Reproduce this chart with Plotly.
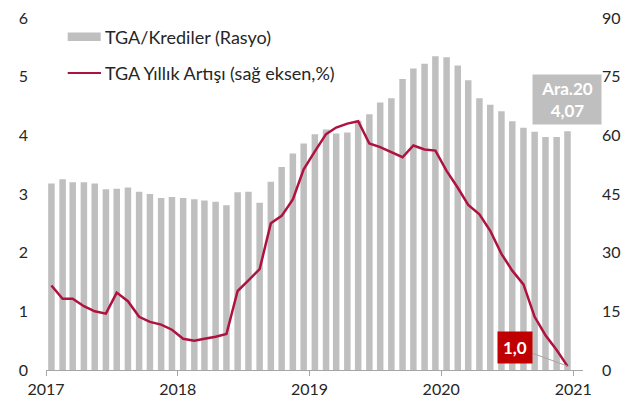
import pandas as pd
import plotly.graph_objects as go

months = pd.date_range("2017-01-01", "2020-12-01", freq="MS") + pd.Timedelta(days=15)

ratio = [3.18, 3.25, 3.20, 3.20, 3.18, 3.08, 3.09, 3.11, 3.04, 3.00, 2.93, 2.95,
         2.93, 2.91, 2.89, 2.87, 2.81, 3.03, 3.04, 2.85, 3.21, 3.46, 3.69, 3.86,
         4.02, 4.10, 4.03, 4.05, 4.25, 4.36, 4.56, 4.63, 4.96, 5.14, 5.22, 5.35,
         5.33, 5.19, 4.94, 4.63, 4.52, 4.41, 4.24, 4.13, 4.06, 3.97, 3.97, 4.07]

growth = [21.6, 18.2, 18.2, 16.3, 15.0, 14.4, 19.8, 17.6, 13.6, 12.3, 11.6, 10.3,
          8.0, 7.5, 8.0, 8.5, 9.2, 20.2, 22.9, 25.8, 37.5, 39.4, 43.6, 51.3,
          55.9, 60.3, 62.0, 63.0, 63.6, 57.9, 57.0, 55.8, 54.4, 57.4, 56.4, 56.1,
          50.9, 46.6, 42.2, 39.8, 35.6, 29.7, 25.4, 21.9, 13.6, 8.9, 5.1, 1.0]

left_ticks = [0, 1, 2, 3, 4, 5, 6]
right_ticks = [0, 15, 30, 45, 60, 75, 90]
year_ticks = ["2017-01-01", "2018-01-01", "2019-01-01", "2020-01-01", "2021-01-01"]
year_labels = ["2017", "2018", "2019", "2020", "2021"]

bar_name = "TGA/Krediler (Rasyo)"
line_name = "TGA Yıllık Artışı (sağ eksen,%)"
last_label = "Ara.20<br>4,07"
line_label = "1,0"

FONT = "Lato"
TXT = "#262626"
BAR = "#bfbfbf"
LINE = "#b0123f"

# plot area in window pixels (page body adds an 8px offset)
PL, PR, PT, PB = 46, 583, 18, 370
PW, PH = PR - PL, PB - PT


def px(x):
    return (x - PL) / PW


def py(y):
    return (PB - y) / PH


fig = go.Figure()
fig.add_trace(go.Bar(x=months, y=ratio, name=bar_name, marker_color=BAR,
                     marker_line_width=0, width=18 * 86400000, yaxis="y"))
fig.add_trace(go.Scatter(x=months, y=growth, name=line_name, mode="lines",
                         line=dict(color=LINE, width=2.5), yaxis="y2"))

fig.update_layout(
    width=629, height=395,
    margin=dict(l=PL - 8, r=629 - (PR - 8), t=PT - 8, b=395 - (PB - 8),
                autoexpand=False),
    paper_bgcolor="white", plot_bgcolor="white",
    showlegend=False,
    font=dict(family=FONT, size=16, color=TXT),
    xaxis=dict(type="date", range=["2017-01-01", "2021-01-28"],
               tickvals=year_ticks, ticktext=year_labels, automargin=False,
               showgrid=False, showline=True, linecolor="#a6a6a6", linewidth=1,
               ticks="outside", ticklen=5, tickcolor="#a6a6a6",
               tickfont=dict(size=16, color=TXT)),
    yaxis=dict(range=[0, 6], tickvals=left_ticks, showgrid=False, zeroline=False,
               showline=False, ticks="", ticklabelstandoff=17, automargin=False,
               ticklabeloverflow="allow",
               tickfont=dict(size=16, color=TXT)),
    yaxis2=dict(range=[0, 90], tickvals=right_ticks, overlaying="y", side="right",
                showgrid=False, zeroline=False, showline=False, ticks="",
                ticklabelstandoff=18, automargin=False,
                ticklabeloverflow="allow",
                tickfont=dict(size=16, color=TXT)),
)

# legend drawn manually (wide swatches as in reference)
fig.add_shape(type="rect", xref="paper", yref="paper",
              x0=px(67.7), x1=px(100.7), y0=py(41), y1=py(32.5),
              fillcolor=BAR, line_width=0)
fig.add_shape(type="line", xref="paper", yref="paper",
              x0=px(67.7), x1=px(101), y0=py(73), y1=py(73),
              line=dict(color=LINE, width=2))
fig.add_annotation(text=bar_name, xref="paper", yref="paper",
                   x=px(103), y=py(36.5),
                   xanchor="left", yanchor="middle", showarrow=False,
                   font=dict(size=18, color=TXT))
fig.add_annotation(text=line_name, xref="paper", yref="paper",
                   x=px(103), y=py(73),
                   xanchor="left", yanchor="middle", showarrow=False,
                   font=dict(size=18, color=TXT))

# data labels
fig.add_annotation(text="<b>" + last_label + "</b>", x=months[-1], y=ratio[-1],
                   xref="x", yref="y", xanchor="center", yanchor="bottom",
                   yshift=6, showarrow=False, bgcolor=BAR, borderpad=3,
                   width=62, align="center",
                   font=dict(size=17, color="white", family=FONT))
fig.add_annotation(text="<b>" + line_label + "</b>", x=months[-1], y=growth[-1],
                   xref="x", yref="y2", showarrow=True, arrowhead=0,
                   arrowwidth=1, arrowcolor="#a6a6a6", ax=-52, ay=-19,
                   bgcolor="#c00000", borderpad=5,
                   font=dict(size=17, color="white", family=FONT))

fig.write_html("out.html")
